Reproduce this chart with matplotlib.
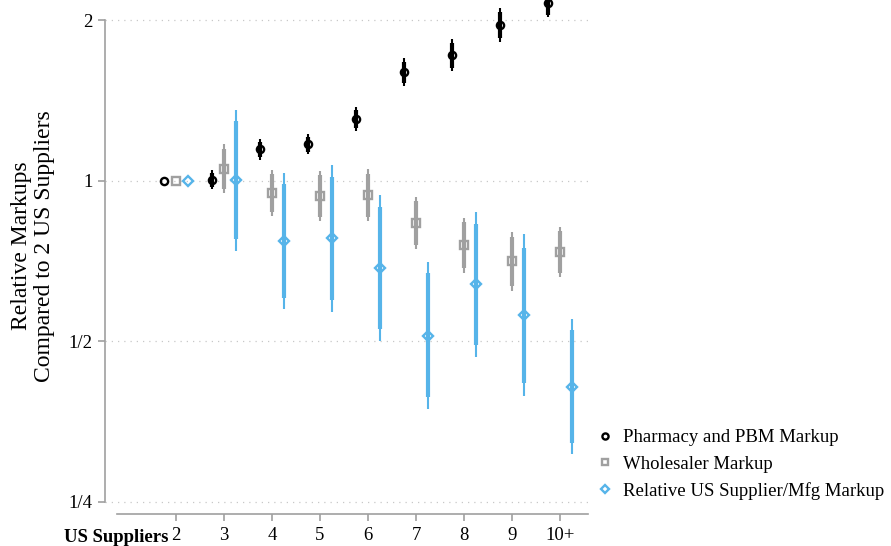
import numpy as np
import matplotlib
matplotlib.use("Agg")
import matplotlib.pyplot as plt
from matplotlib.ticker import FixedLocator, NullLocator

plt.rcParams['font.family'] = ['Liberation Serif', 'DejaVu Serif']

# categories (number of US suppliers)
suppliers = ['2', '3', '4', '5', '6', '7', '8', '9', '10+']

# Pharmacy and PBM markup: estimate, 95% (thin) and 90% (thick) bands
pharm = [1.0, 1.004, 1.148, 1.173, 1.307, 1.601, 1.723, 1.961, 2.157]
pharm_lo95 = [np.nan, 0.966, 1.095, 1.124, 1.241, 1.507, 1.608, 1.823, 2.031]
pharm_hi95 = [np.nan, 1.049, 1.199, 1.225, 1.377, 1.701, 1.847, 2.111, 2.291]
pharm_lo90 = [np.nan, 0.974, 1.109, 1.133, 1.257, 1.527, 1.629, 1.854, 2.048]
pharm_hi90 = [np.nan, 1.035, 1.183, 1.209, 1.359, 1.672, 1.815, 2.075, 2.272]

# Wholesaler markup
whole = [1.0, 1.053, 0.950, 0.937, 0.941, 0.834, 0.758, 0.708, 0.736]
whole_lo95 = [np.nan, 0.950, 0.860, 0.841, 0.841, 0.746, 0.672, 0.622, 0.661]
whole_hi95 = [np.nan, 1.173, 1.049, 1.044, 1.053, 0.933, 0.852, 0.802, 0.820]
whole_lo90 = [np.nan, 0.966, 0.875, 0.856, 0.856, 0.758, 0.687, 0.635, 0.672]
whole_hi90 = [np.nan, 1.148, 1.031, 1.026, 1.031, 0.917, 0.838, 0.785, 0.806]

# Relative US supplier / manufacturer markup
mfg = [1.0, 1.004, 0.772, 0.782, 0.687, 0.512, 0.641, 0.561, 0.411]
mfg_lo95 = [np.nan, 0.739, 0.575, 0.568, 0.501, 0.374, 0.468, 0.395, 0.308]
mfg_hi95 = [np.nan, 1.359, 1.035, 1.072, 0.941, 0.705, 0.875, 0.795, 0.551]
mfg_lo90 = [np.nan, 0.778, 0.603, 0.598, 0.528, 0.393, 0.493, 0.418, 0.323]
mfg_hi90 = [np.nan, 1.296, 0.987, 1.017, 0.894, 0.672, 0.831, 0.749, 0.525]

BLACK = '#000000'
GRAY = '#a0a0a0'
BLUE = '#56b4e9'

fig = plt.figure(figsize=(8.91, 5.46), dpi=100)
ax = fig.add_axes([105 / 891, 1 - 514 / 546, 485 / 891, 514 / 546])

pos = np.arange(2, 2 + len(suppliers))

series = [
    (pharm, pharm_lo95, pharm_hi95, pharm_lo90, pharm_hi90, BLACK, 'o', 5.2, -0.25,
     'Pharmacy and PBM Markup'),
    (whole, whole_lo95, whole_hi95, whole_lo90, whole_hi90, GRAY, 's', 5.2, 0.0,
     'Wholesaler Markup'),
    (mfg, mfg_lo95, mfg_hi95, mfg_lo90, mfg_hi90, BLUE, 'D', 5.0, 0.25,
     'Relative US Supplier/Mfg Markup'),
]

handles = []
for est, lo95, hi95, lo90, hi90, col, mk, ms, off, lab in series:
    xx = pos + off
    ax.vlines(xx, lo95, hi95, color=col, lw=1.5, zorder=2)
    ax.vlines(xx, lo90, hi90, color=col, lw=3.0, zorder=3)
    h, = ax.plot(xx, est, linestyle='none', marker=mk, markersize=ms,
                 markerfacecolor='none', markeredgecolor=col,
                 markeredgewidth=1.7, zorder=4, label=lab)
    handles.append(h)

ax.set_yscale('log', base=2)
ax.set_ylim(2 ** -2.075, 2 ** 1.125)
ax.set_xlim(0.521, 10.625)

ax.yaxis.set_major_locator(FixedLocator([0.25, 0.5, 1, 2]))
ax.yaxis.set_minor_locator(NullLocator())
ax.set_yticklabels(['1/4', '1/2', '1', '2'])
ax.set_xticks(pos)
ax.set_xticklabels(suppliers)

ax.grid(axis='y', color='#c8c8c8', linestyle=(0, (1, 4)), linewidth=0.9)
ax.set_axisbelow(True)

for s in ['top', 'right']:
    ax.spines[s].set_visible(False)
ax.spines['left'].set_bounds(0.25, 2)
ax.spines['bottom'].set_bounds(0.77, 10.58)
for s in ['left', 'bottom']:
    ax.spines[s].set_color('#a0a0a0')
    ax.spines[s].set_linewidth(1.2)
ax.tick_params(axis='both', color='#a0a0a0', length=5, width=1.2,
               labelsize=13.5, pad=4)

fig.text(168 / 891, 1 - 537 / 546, 'US Suppliers', ha='right', va='center',
         fontsize=13.5, fontweight='bold')

fig.text(33 / 891, 1 - 246 / 546, 'Relative Markups\nCompared to 2 US Suppliers',
         rotation=90, ha='center', va='center', multialignment='center',
         fontsize=17, linespacing=1.12)

fig.legend(handles=handles, loc='upper left',
           bbox_to_anchor=(597 / 891, 1 - 429 / 546), frameon=False,
           fontsize=13.5, handlelength=0.8, handletextpad=0.6,
           labelspacing=0.5, borderpad=0, borderaxespad=0, markerscale=0.85)

fig.savefig('out.png', dpi=100)
